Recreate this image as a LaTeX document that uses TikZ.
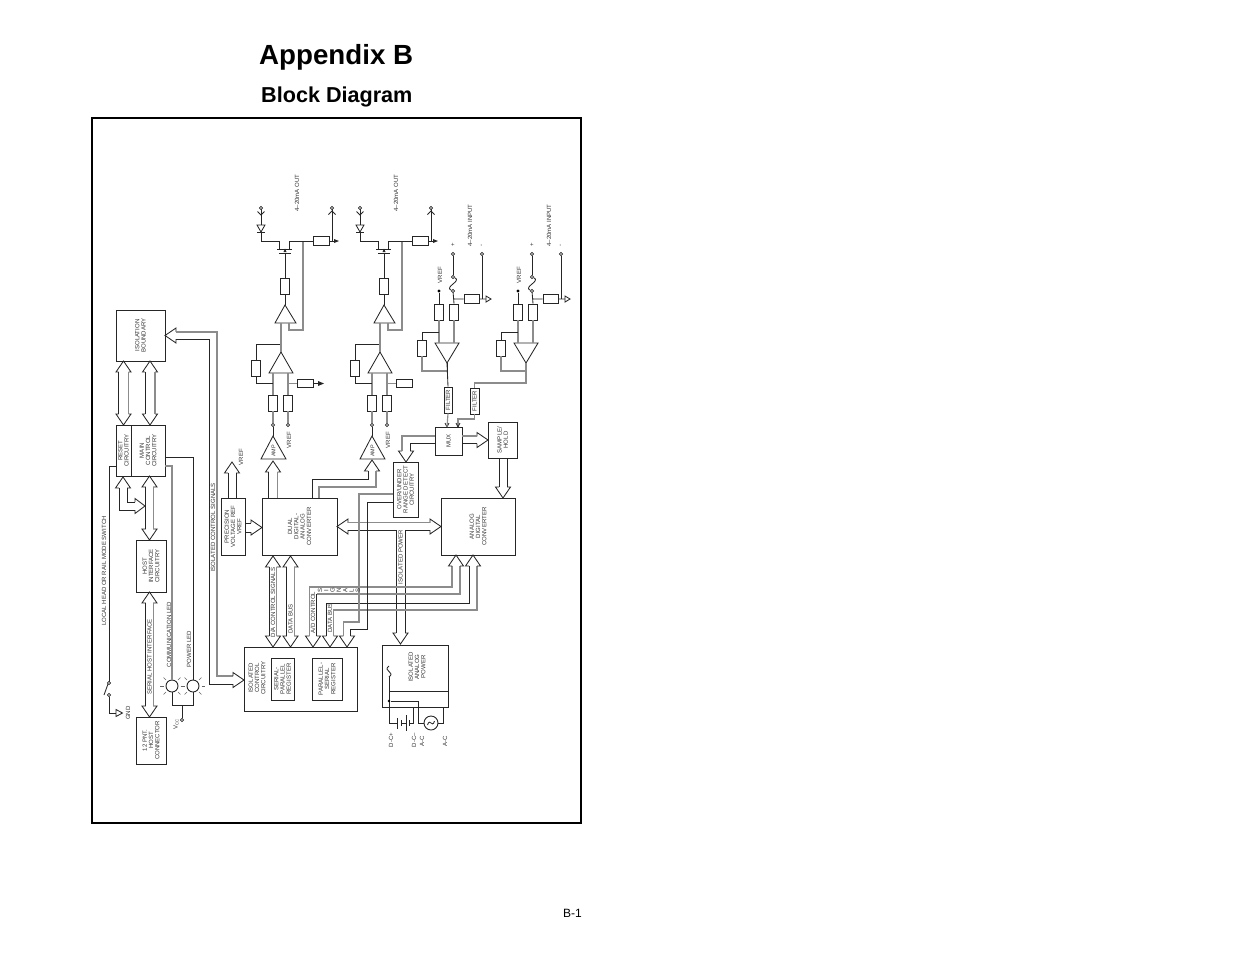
\documentclass[tikz,border=0pt]{standalone}
\usepackage{fontspec}
\setmainfont{Liberation Sans}
\usetikzlibrary{calc}
\tikzset{
  wire/.style={line width=.85pt,draw=black!85},
  gwire/.style={line width=1.15pt,draw=black!45},
  wide/.style={line width=.85pt,draw=black!85,line join=miter},
  gwide/.style={line width=1.15pt,draw=black!45,line join=miter},
  blk/.style={draw=black!85,line width=.85pt,inner sep=0,fill=none},
  lbl/.style={font=\fontsize{6.05}{6.3}\selectfont,align=center,inner sep=0,rotate=90,text=black!80},
  term/.style={circle,draw=black!85,line width=.8pt,fill=white,inner sep=0,minimum size=3.2pt},
  dotn/.style={circle,fill=black,inner sep=0,minimum size=3.4pt},
  res/.style={draw=black!85,line width=.85pt,inner sep=0,fill=white},
  hd/.style={font=\bfseries,inner sep=0,anchor=base west},
}
\newcommand\bxA{}\newcommand\bxB{}
\newcommand\boxN[6]{\pgfmathsetmacro\bxA{#4-#2}\pgfmathsetmacro\bxB{#5-#3}%
  \node[blk,minimum width=\bxA pt,minimum height=\bxB pt] (#1) at ({(#2+#4)/2},{(#3+#5)/2}) {};%
  \node[lbl] (#1-t) at (#1) {#6};}
\newcommand\lb[4]{\node[lbl] (#1) at (#2,#3) {#4};}
\newcommand\rv[4]{\pgfmathsetmacro\bxB{#4-#3}%
  \node[res,minimum width=8.4pt,minimum height=\bxB pt] (#1) at ({#2},{(#3+#4)/2}) {};}
\newcommand\rh[4]{\pgfmathsetmacro\bxB{#3-#2}%
  \node[res,minimum width=\bxB pt,minimum height=8.2pt] (#1) at ({(#2+#3)/2},{#4}) {};}
\newcommand\headU[3]{\draw[wide] (#1-#3,#2+11)--(#1-7.5,#2+11)--(#1,#2)--(#1+7.5,#2+11)--(#1+#3,#2+11);}
\newcommand\headD[3]{\draw[wide] (#1-#3,#2-11)--(#1-7.5,#2-11)--(#1,#2)--(#1+7.5,#2-11)--(#1+#3,#2-11);}
\newcommand\headL[3]{\draw[wide] (#1+11,#2-#3)--(#1+11,#2-7.5)--(#1,#2)--(#1+11,#2+7.5)--(#1+11,#2+#3);}
\newcommand\headR[3]{\draw[wide] (#1-11,#2-#3)--(#1-11,#2-7.5)--(#1,#2)--(#1-11,#2+7.5)--(#1-11,#2+#3);}
% vertical double arrow: cx, ytop, ybot, half shaft
\newcommand\dblV[4]{\headU{#1}{#2}{#4}\headD{#1}{#3}{#4}%
  \draw[wide] (#1-#4,#2+11)--(#1-#4,#3-11);\draw[gwide] (#1+#4,#2+11)--(#1+#4,#3-11);}
\newcommand\led[3]{\node[circle,draw=black!85,line width=.9pt,minimum size=12pt,inner sep=0] (#1) at (#2,#3) {};
  \foreach \aa in {0,45,135,180,225,315}{\draw[line width=.6pt,draw=black!60] ($(#1)+(\aa:8.5)$)--($(#1)+(\aa:12)$);}}
\newcommand\chan{%
  \coordinate (ampT) at (273,436);
  \draw[wire] (261,459)--(ampT)--(286,459)--cycle;
  \node[lbl,font=\fontsize{5.4}{5.6}\selectfont] (ampL) at (273.5,451) {AMP};
  \node[term] (c1) at (273,425) {};
  \node[term] (c2) at (288,425) {};
  \lb{vr}{289}{440}{VREF}
  \draw[wire] (c1)--(ampT);
  \rv{r1}{273}{395}{411}\rv{r2}{288}{395}{411}
  \draw[gwire] (c1)--(r1.south) (c2)--(r2.south);
  \coordinate (opT) at (281,352);
  \draw[wire] (269,373)--(opT)--(293,373)--cycle;
  \draw[gwire] (r1.north)--(273,373) (r2.north)--(288,373);
  \rv{r3}{256}{360}{376}
  \draw[wire] (273,383)-|(r3.south) (r3.north)|-(opT|-0,344);
  \coordinate (o3T) at (285,305);
  \draw[wire] (275,323)--(o3T)--(296,323)--cycle;
  \draw[gwire] (opT)--(281,323);
  \draw[gwire] (289,323)--(289,330)-|(303,241);
  \rv{r5}{285}{278}{294}
  \draw[wire] (o3T)--(r5.south) (r5.north)--(285,253);
  \rh{r6}{313}{329}{241}
  \rh{r7}{297}{313}{383.5}
  \draw[gwire] (288,383.5)--(r7.west);
  \draw[wire] (261,241)-|(279,249) (289,249)|-(r6.west) (r6.east)--(335,241);
  \draw[wire] (277,249)--(292,249) (279,253)--(291,253);
  \fill[black!85] (283.5,252)--(286.5,252)--(285,248.5)--cycle;
  \draw[wire] (261,241)--(261,232) (257,232)--(265,232);
  \draw[wire] (257,225)--(265,225)--(261,232)--cycle;
  \draw[wire] (261,225)--(261,208);
  \draw[wire] (257.5,211.5)--(261,215)--(264.5,211.5);
  \node[term] (tl) at (261,208) {};
  \draw[wire] (332,241)--(332,208);
  \draw[wire] (328.5,214.5)--(332,211)--(335.5,214.5);
  \node[term] (tr) at (332,208) {};
  \fill[black!85] (334,239)--(339,241)--(334,243)--cycle;
  \lb{ol}{297}{193}{4--20mA OUT}
}
\newcommand\inp{%
  \node[term] (p) at (453,254) {};
  \node[term] (m) at (482,254) {};
  \node[term] (f1) at (453,277) {};
  \node[term] (f2) at (453,291) {};
  \lb{pl}{453}{245}{+}\lb{ml}{482}{245}{-}
  \lb{il}{470}{225.5}{4--20mA INPUT}
  \lb{vf}{440}{275}{VREF}
  \draw[wire] (p)--(f1) (m)--(482,299);
  \draw[wire] (f1) .. controls (462,281) and (444,287) .. (f2);
  \rh{rs}{464}{479}{299}
  \rv{ra}{439}{304}{320}\rv{rb}{454}{304}{320}
  \node[dotn] (vd) at (439,291) {};
  \draw[wire] (f2)--(rb.north) (453.5,299)--(rs.west) (rs.east)--(486,299);
  \draw[wire] (486,296)--(491,299)--(486,302)--cycle;
  \draw[wire] (vd)--(ra.north);
  \coordinate (oT) at (447,363);
  \draw[wire] (435,343)--(459,343)--(oT)--cycle;
  \draw[gwire] (ra.south)--(439,343) (rb.south)--(454,343);
  \rv{rf}{422}{340}{356}
  \draw[wire] (439,332)-|(rf.north);
  \draw[gwire] (rf.south)|-(447,371);
  \draw[wire] (oT)--(447,371);
}
\begin{document}
\begin{tikzpicture}[x=1pt,y=-1pt]
\useasboundingbox (0,0) rectangle (1235,954);
\node[hd,font=\fontsize{27.7}{30}\selectfont\bfseries] (title) at (259,64.5) {Appendix B};
\node[hd,font=\fontsize{21.6}{24}\selectfont\bfseries] (sub) at (261,102.5) {Block Diagram};
\node[inner sep=0,font=\fontsize{12}{14}\selectfont,anchor=east] (pg) at (582,913) {B-1};
\node[draw=black,line width=1.5pt,minimum width=489pt,minimum height=705pt,inner sep=0] (frame) at (336.5,470.5) {};

% boxes
\boxN{iso}{116}{310}{165}{361}{ISOLATION\\BOUNDARY}
\boxN{rst}{116}{425}{131}{476}{RESET\\CIRCUITRY}
\boxN{mainc}{131}{425}{165}{476}{MAIN\\CONTROL\\CIRCUITRY}
\boxN{host}{136}{540}{166}{592}{HOST\\INTERFACE\\CIRCUITRY}
\boxN{conn}{136}{717}{166}{764}{12 PNT.\\HOST\\CONNECTOR}
\boxN{prec}{221}{498}{245}{555}{PRECISION\\VOLTAGE REF\\VREF}
\boxN{dac}{262}{498}{337}{555}{DUAL\\DIGITAL-\\ANALOG\\CONVERTER}
\boxN{over}{393}{462}{418}{517}{OVER/UNDER\\RANGE DETECT\\CIRCUITRY}
\boxN{adc}{441}{498}{515}{555}{ANALOG\\DIGITAL\\CONVERTER}
\boxN{mux}{435}{427}{462}{455}{MUX}
\boxN{sh}{488}{422}{517}{458}{SAMPLE/\\HOLD}
\boxN{ctrl}{244}{647}{357}{711}{}
\lb{ctrlT}{257}{678}{ISOLATED\\CONTROL\\CIRCUITRY}
\boxN{ser}{271}{658}{294}{700}{SERIAL-\\PARALLEL\\REGISTER}
\boxN{par}{312}{658}{342}{700}{PARALLEL-\\SERIAL\\REGISTER}
\boxN{pow}{382}{645}{448}{707}{}
\lb{powT}{417}{667}{ISOLATED\\ANALOG\\POWER}
\boxN{fa}{444}{387}{452}{413}{FILTER}
\boxN{fb}{470}{388}{479}{414}{FILTER}

% left column
\dblV{123.5}{361}{425}{5}
\dblV{150}{361}{425}{5}
\dblV{149.5}{476}{540}{3.7}
\dblV{149.5}{592}{717}{3.7}
\lb{shi}{149.5}{657}{SERIAL HOST INTERFACE}
\headU{123}{477}{4}
\draw[wide] (119,488)--(119,510)--(135,510) (127,488)--(127,502)--(135,502);
\draw[wide] (135,502)--(135,498.5)--(145,506)--(135,513.5)--(135,510);

\draw[wire] (rst.west|-0,466)--(109,466)--(109,681.5);
\node[term] (sw1) at (109,683) {};
\node[term] (sw2) at (109,695) {};
\draw[wire] (108,684)--(104,695);
\draw[wire] (sw2)--(109,713)--(116,713);
\draw[wire] (116,709.5)--(122.5,713)--(116,716.5)--cycle;
\lb{gnd}{128}{713}{GND}
\lb{lh}{104}{571}{LOCAL HEAD OR RAIL MODE SWITCH}

\led{ledc}{172}{686}\led{ledp}{193}{686}
\draw[gwire] (mainc.east|-0,466)--(172,466)--(ledc.north);
\draw[wire] (mainc.east|-0,457)--(193,457)--(ledp.north);
\draw[wire] (ledc.south)--(172,705)--(193,705)--(ledp.south);
\node[term] (vcc) at (182,720) {};
\draw[wire] (182,705)--(vcc);
\node[lbl] (vccT) at (176,724) {V\textsubscript{CC}};
\lb{cl}{169}{634.5}{COMMUNICATION LED}
\lb{pl0}{189}{649}{POWER LED}

% isolated control signals
\headL{165}{335.5}{3.7}
\draw[wire] (176,339)--(209,339)--(209,684)--(233,684);
\draw[gwire] (176,332)--(217,332)--(217,676)--(233,676);
\headR{244}{680}{4}
\lb{ics}{213}{527.5}{ISOLATED CONTROL SIGNALS}

% precision
\headU{232}{462}{4}
\draw[wide] (228,473)--(228,498) (236,473)--(236,498);
\lb{vrp}{241}{457}{VREF}
\headR{262}{527.5}{4.5}
\draw[wide] (245,523)--(251,523) (245,532)--(251,532);

% channels
\begin{scope}[name prefix=a-]\chan
\draw[wire] (a-r7.east)--(318,383.5);
\fill[black!85] (318,381)--(324,383.5)--(318,386)--cycle;
\end{scope}
\begin{scope}[shift={(99,0)},name prefix=b-]\chan\end{scope}

% DAC to amps
\headU{273}{461}{4.5}
\draw[wide] (268.5,472)--(268.5,498);\draw[gwide] (277.5,472)--(277.5,498);
\headU{372}{460}{4}
\draw[wide] (368,471)--(368,479)--(312,479)--(312,498);
\draw[gwide] (376,471)--(376,487)--(319,487)--(319,498);

% inputs
\begin{scope}[name prefix=c-]\inp\end{scope}
\begin{scope}[shift={(79,0)},name prefix=d-]\inp\end{scope}
\draw[wire] (c-oT)--(fa.north);
\draw[gwire] (d-oT)--(526,383)--(474.5,383)--(fb.north);
\draw[wire] (445,423)--(447,427)--(449,423);
\draw[gwire] (fa.south)--(447,427);
\draw[gwire] (fb.south)--(474.5,419)--(458,419)--(458,427);
\draw[wire] (456,423)--(458,427)--(460,423);

% mux, s/h, over
\headD{406}{462}{4}
\draw[gwide] (402,451)--(402,436)--(mux.west|-0,436);
\draw[wide] (410,451)--(410,443)--(mux.west|-0,443);
\headR{488}{440}{3.7}
\draw[gwide] (462,436)--(477,436);\draw[wide] (462,443.5)--(477,443.5);
\headD{503}{498}{4}
\draw[wide] (499,458)--(499,487) (507,458)--(507,487);

% DAC-ADC bus
\headL{337}{526.5}{3.7}\headR{441}{526.5}{3.7}
\draw[gwide] (348,522.8)--(430,522.8);
\draw[wide] (348,530.2)--(396,530.2) (405,530.2)--(430,530.2);
\draw[wide] (396,530.2)--(396,633) (405,530.2)--(405,633);
\headD{400.5}{644}{4.5}
\lb{ip}{400.5}{557}{ISOLATED POWER}

% control <-> converters
\dblV{273}{556}{647}{3.7}
\dblV{290.5}{556}{647}{3.7}
\lb{dac1}{273}{602.5}{D/A CONTROL SIGNALS}
\lb{dbus}{290.5}{619}{DATA BUS}
\headD{313}{647}{3.7}\headD{330}{647}{3.7}\headD{347}{647}{3.7}
\draw[gwide] (309.3,636)--(309.3,587)--(452,587)--(452,566);
\draw[wide] (316.7,636)--(316.7,594)--(460,594);
\draw[gwide] (316.7,594)--(460,594)--(460,566);
\draw[wide] (326.3,636)--(326.3,603)--(469,603)--(469,566);
\draw[gwide] (333.7,636)--(333.7,610)--(477,610)--(477,566);
\headU{456}{555}{4}\headU{473}{555}{4}
\draw[gwide] (343.3,636)--(343.3,622)--(359,622)--(359,494)--(over.west|-0,494);
\draw[wide] (350.7,636)--(350.7,629)--(367,629)--(367,502)--(over.west|-0,502);
\lb{adl}{313}{612.5}{A/D CONTROL}
\lb{dbs2}{330}{618}{DATA BUS}
\foreach \i/\xx/\cc in {1/320/S,2/326.3/I,3/332.6/G,4/338.9/N,5/345.2/A,6/351.5/L,7/357.8/S}{
  \node[lbl] (sg\i) at (\xx,590.5) {\cc};}

% analog power
\draw[wire] (389,677)--(389,723)--(397,723);
\draw[wire] (389,691)--(pow.east|-0,691);
\node[dotn,minimum size=2.6pt] (pd) at (389,701) {};
\draw[wire] (pd)--(418,701)--(418,723)--(424,723);
\draw[wire] (389,677) .. controls (396,672) and (382,671) .. (389,666);
\draw[wire] (397,718)--(397,729) (401,720)--(401,726) (406,715)--(406,731) (409,720)--(409,726);
\draw[wire] (401,723)--(406,723) (409,723)--(413,723)--(413,707);
\node[circle,draw=black!85,line width=.9pt,minimum size=14pt,inner sep=0] (ac) at (431,723) {};
\draw[wire] (427.5,725) .. controls (430,717) and (432,729) .. (434.5,721);
\draw[wire] (ac.east)--(443,723)--(443,707);
\lb{dcp}{391}{740}{D-C+}
\lb{dcm}{414}{740}{D-C--}
\lb{ac1}{422}{741}{A-C}
\lb{ac2}{445}{741}{A-C}
\end{tikzpicture}
\end{document}
